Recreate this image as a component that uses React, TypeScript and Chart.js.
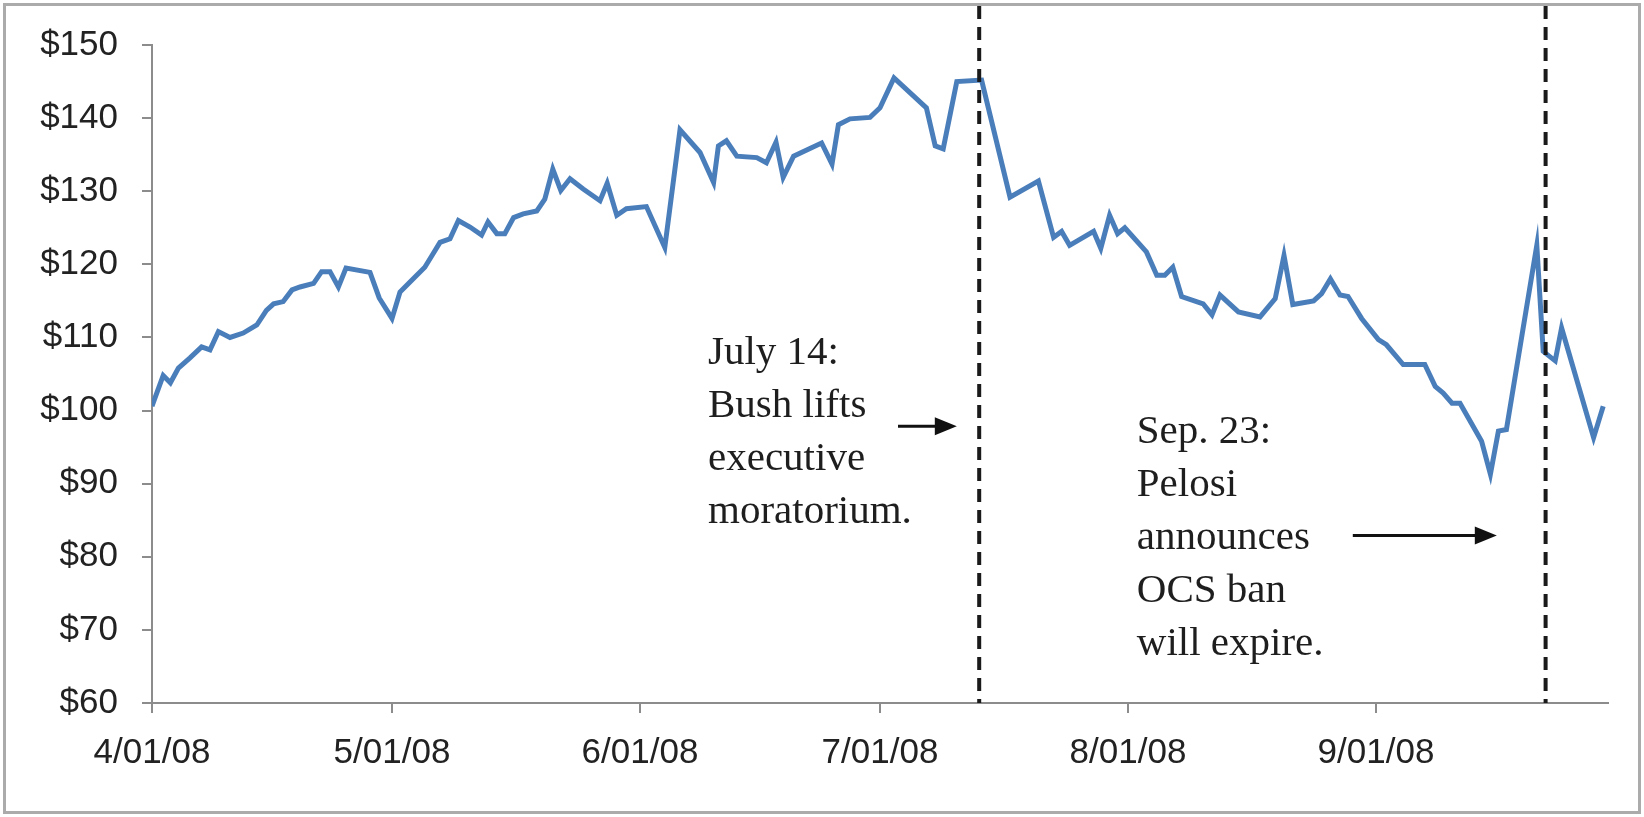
import React, { useEffect, useRef } from "react";
import { Chart, registerables } from "chart.js";

Chart.register(...registerables);

// x = days since 4/01/08, y = price in dollars
const days: number[] = [
  0, 1.4, 2.3, 3.3, 4.75, 6.2, 7.25, 8.3, 9.75, 11.4, 13.1, 14.3, 15.2, 16.4, 17.5, 18.5, 20.2, 21.2,
  22.25, 23.3, 24.25, 27.25, 28.4, 30, 31, 32.25, 34.1, 35, 36, 37.25, 38.3, 39.75, 41.2, 42, 43.1,
  44.1, 45.2, 46.4, 48.1, 49.1, 50.1, 51.1, 52.25, 53.9, 56, 56.9, 58.1, 59.3, 61.8, 64.1, 66, 68.5,
  70.2, 70.8, 71.8, 73.1, 75.6, 76.8, 78, 78.9, 80.2, 83.7, 85, 85.8, 87.25, 89.75, 91, 92.75, 96.8,
  97.9, 98.9, 100.6, 103.7, 107.25, 110.8, 112.7, 113.7, 114.7, 117.7, 118.6, 119.7, 120.7, 121.6,
  124.3, 125.6, 126.6, 127.6, 128.7, 131.4, 132.5, 133.5, 135.8, 138.5, 140.4, 141.5, 142.6, 145.2,
  146.2, 147.3, 148.5, 149.5, 151.2, 153.3, 154.3, 156.4, 159.1, 160.4, 161.4, 162.5, 163.5, 166.2,
  167.3, 168.3, 169.3, 173.1, 173.9, 175.4, 176.2, 180.2, 181.4,
];
const prices: number[] = [
  100.6, 104.8, 103.8, 105.8, 107.2, 108.7, 108.3, 110.8, 110.0, 110.6, 111.7, 113.7, 114.6, 114.9,
  116.5, 116.9, 117.4, 119.0, 119.0, 116.9, 119.5, 118.9, 115.4, 112.6, 116.2, 117.6, 119.6, 121.2,
  123.0, 123.5, 126.0, 125.1, 124.0, 125.8, 124.2, 124.2, 126.4, 126.9, 127.3, 128.9, 133.0, 130.1,
  131.7, 130.3, 128.7, 131.1, 126.7, 127.6, 127.9, 122.3, 138.4, 135.3, 131.2, 136.2, 136.9, 134.8,
  134.6, 133.9, 136.7, 131.9, 134.8, 136.6, 133.7, 139.1, 139.9, 140.1, 141.4, 145.5, 141.4, 136.2,
  135.8, 145.0, 145.2, 129.2, 131.4, 123.7, 124.5, 122.6, 124.5, 122.2, 126.7, 124.2, 125.0, 121.7,
  118.5, 118.5, 119.6, 115.6, 114.6, 113.1, 115.8, 113.5, 112.8, 115.3, 121.2, 114.5, 115.0, 116.0,
  118.0, 115.8, 115.6, 112.6, 109.7, 109.0, 106.3, 106.3, 103.3, 102.4, 101.0, 101.0, 95.8, 91.3,
  97.2, 97.4, 122.6, 108.1, 106.8, 111.3, 96.3, 100.6,
];

const monthStartDays: number[] = [0, 30, 61, 91, 122, 153];
const monthLabels: string[] = ["4/01/08", "5/01/08", "6/01/08", "7/01/08", "8/01/08", "9/01/08"];
const xMin = 0;
const xMax = 182;
const yMin = 60;
const yMax = 150;
const yStep = 10;

// events (day offsets where the dashed lines sit)
const eventDays: number[] = [103.4, 174.2];
const eventTexts: string[][] = [
  ["July 14:", "Bush lifts", "executive", "moratorium."],
  ["Sep. 23:", "Pelosi", "announces", "OCS ban", "will expire."],
];
// anchor (day, price) of each note's first baseline
const noteDays: number[] = [69.5, 123.1];
const notePrices: number[] = [106.3, 95.6];
// arrows: start day, end day, price
const arrowFromDays: number[] = [93.25, 150.1];
const arrowToDays: number[] = [100.6, 168.1];
const arrowPrices: number[] = [97.85, 82.9];

const annotationPlugin = {
  id: "annotations",
  beforeDraw(chart: any) {
    const { ctx, width, height } = chart;
    ctx.save();
    ctx.fillStyle = "#ffffff";
    ctx.fillRect(0, 0, width, height);
    ctx.strokeStyle = "#ababab";
    ctx.lineWidth = 3;
    ctx.strokeRect(4.5, 4.5, width - 9, height - 9);
    ctx.restore();
  },
  afterDraw(chart: any) {
    const { ctx, chartArea } = chart;
    const xs = chart.scales.x;
    const ys = chart.scales.y;
    ctx.save();
    // dashed lines
    ctx.strokeStyle = "#1a1a1a";
    ctx.lineWidth = 4;
    ctx.setLineDash([13, 8]);
    eventDays.forEach((d) => {
      const px = xs.getPixelForValue(d);
      ctx.beginPath();
      ctx.moveTo(px, 6);
      ctx.lineTo(px, chartArea.bottom);
      ctx.stroke();
    });
    ctx.setLineDash([]);
    // notes
    ctx.fillStyle = "#1e1e1e";
    ctx.font = '41px "Liberation Serif", "Times New Roman", serif';
    ctx.textAlign = "left";
    ctx.textBaseline = "alphabetic";
    eventTexts.forEach((lines, i) => {
      const x0 = xs.getPixelForValue(noteDays[i]);
      const y0 = ys.getPixelForValue(notePrices[i]);
      lines.forEach((ln, j) => ctx.fillText(ln, x0, y0 + j * 53));
    });
    // arrows
    ctx.strokeStyle = "#111111";
    ctx.fillStyle = "#111111";
    ctx.lineWidth = 3;
    arrowFromDays.forEach((d, i) => {
      const x1 = xs.getPixelForValue(d);
      const x2 = xs.getPixelForValue(arrowToDays[i]);
      const y = ys.getPixelForValue(arrowPrices[i]);
      ctx.beginPath();
      ctx.moveTo(x1, y);
      ctx.lineTo(x2 - 18, y);
      ctx.stroke();
      ctx.beginPath();
      ctx.moveTo(x2, y);
      ctx.lineTo(x2 - 22, y - 9);
      ctx.lineTo(x2 - 22, y + 9);
      ctx.closePath();
      ctx.fill();
    });
    ctx.restore();
  },
};

export default function App() {
  const canvasRef = useRef<HTMLCanvasElement | null>(null);

  useEffect(() => {
    document.body.style.margin = "0";
    const canvas = canvasRef.current;
    if (!canvas) return;
    const points = days.map((d, i) => ({ x: d, y: prices[i] }));
    const chart = new Chart(canvas, {
      type: "line",
      data: {
        datasets: [
          {
            data: points,
            borderColor: "#4A7EBB",
            borderWidth: 5,
            pointRadius: 0,
            tension: 0,
            fill: false,
          },
        ],
      },
      options: {
        animation: false,
        responsive: true,
        maintainAspectRatio: false,
        devicePixelRatio: 1,
        layout: { padding: { left: 0, top: 42, right: 36, bottom: 0 } },
        plugins: {
          legend: { display: false },
          tooltip: { enabled: false },
        },
        scales: {
          x: {
            type: "linear",
            min: xMin,
            max: xMax,
            afterBuildTicks: (scale: any) => {
              scale.ticks = monthStartDays.map((v) => ({ value: v }));
            },
            afterFit: (scale: any) => {
              scale.height = 114;
            },
            ticks: {
              autoSkip: false,
              maxRotation: 0,
              padding: 19,
              color: "#222222",
              font: { family: '"Liberation Sans", Arial, sans-serif', size: 35 },
              callback: (_v: any, index: number) => monthLabels[index],
            },
            grid: {
              drawOnChartArea: false,
              drawTicks: true,
              tickLength: 10,
              color: "#8c8c8c",
              lineWidth: 2,
            },
            border: { display: true, color: "#8c8c8c", width: 2 },
          },
          y: {
            min: yMin,
            max: yMax,
            afterFit: (scale: any) => {
              scale.width = 152;
            },
            ticks: {
              stepSize: yStep,
              padding: 24,
              color: "#222222",
              font: { family: '"Liberation Sans", Arial, sans-serif', size: 35 },
              callback: (v: any) => "$" + v,
            },
            grid: {
              drawOnChartArea: false,
              drawTicks: true,
              tickLength: 10,
              color: "#8c8c8c",
              lineWidth: 2,
            },
            border: { display: true, color: "#8c8c8c", width: 2 },
          },
        },
      },
      plugins: [annotationPlugin],
    });
    return () => chart.destroy();
  }, []);

  return (
    <div style={{ position: "absolute", left: 0, top: 0, width: "1644px", height: "817px" }}>
      <canvas ref={canvasRef} />
    </div>
  );
}
